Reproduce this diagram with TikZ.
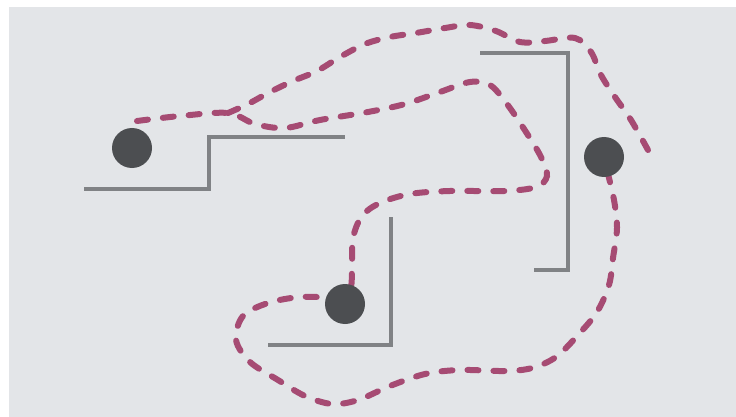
\documentclass[tikz,border=0pt]{standalone}
\begin{document}
\begin{tikzpicture}[x=1pt,y=-1pt,
  wall/.style={draw=wallgray,line width=4pt,line cap=butt,line join=miter},
  ball/.style={circle,fill=ballgray,minimum size=40pt,inner sep=0pt},
  trail/.style={draw=trailpink,line width=6pt,line cap=round,dash pattern=on 11pt off 15pt}]
\definecolor{bggray}{RGB}{227,229,232}
\definecolor{wallgray}{RGB}{128,130,133}
\definecolor{ballgray}{RGB}{76,78,81}
\definecolor{trailpink}{RGB}{166,75,115}
\useasboundingbox (0,0) rectangle (736,417);
\fill[bggray] (9,7) rectangle (736,417);
% walls
\draw[wall] (84,189) -- (209,189) -- (209,137) -- (345,137);
\draw[wall] (480,53) -- (568,53) -- (568,270) -- (534,270);
\draw[wall] (391,217) -- (391,345) -- (268,345);
% trails
\draw[trail] plot[smooth,tension=0.55] coordinates {
  (137,121) (180,116) (228,113) (255,124) (285,128) (320,120) (368,112)
  (405,104) (440,92) (470,82) (490,85) (507,104) (526,132) (541,157)
  (547,176) (536,187) (505,191) (450,191) (410,194) (380,203) (362,216)
  (353,238) (352,265) (350,290) (335,297) (300,297) (268,303) (243,316)
  (236,340) (250,362) (278,380) (305,396) (332,404) (358,400) (390,386)
  (425,374) (460,370) (505,371) (532,368) (556,357) (578,335) (597,312)
  (609,285) (613,258) (617,228) (614,200) (607,170)};
\draw[trail] plot[smooth,tension=0.55] coordinates {
  (228,113) (248,104) (270,92) (293,81) (317,71) (340,57) (365,44)
  (390,37) (416,33) (445,28) (470,25) (496,31) (520,42) (545,41)
  (575,38) (591,52) (601,75) (615,97) (631,120) (648,150)};
% balls
\node[ball] (b1) at (132,148) {};
\node[ball] (b2) at (604,157) {};
\node[ball] (b3) at (345,304) {};
\end{tikzpicture}
\end{document}
